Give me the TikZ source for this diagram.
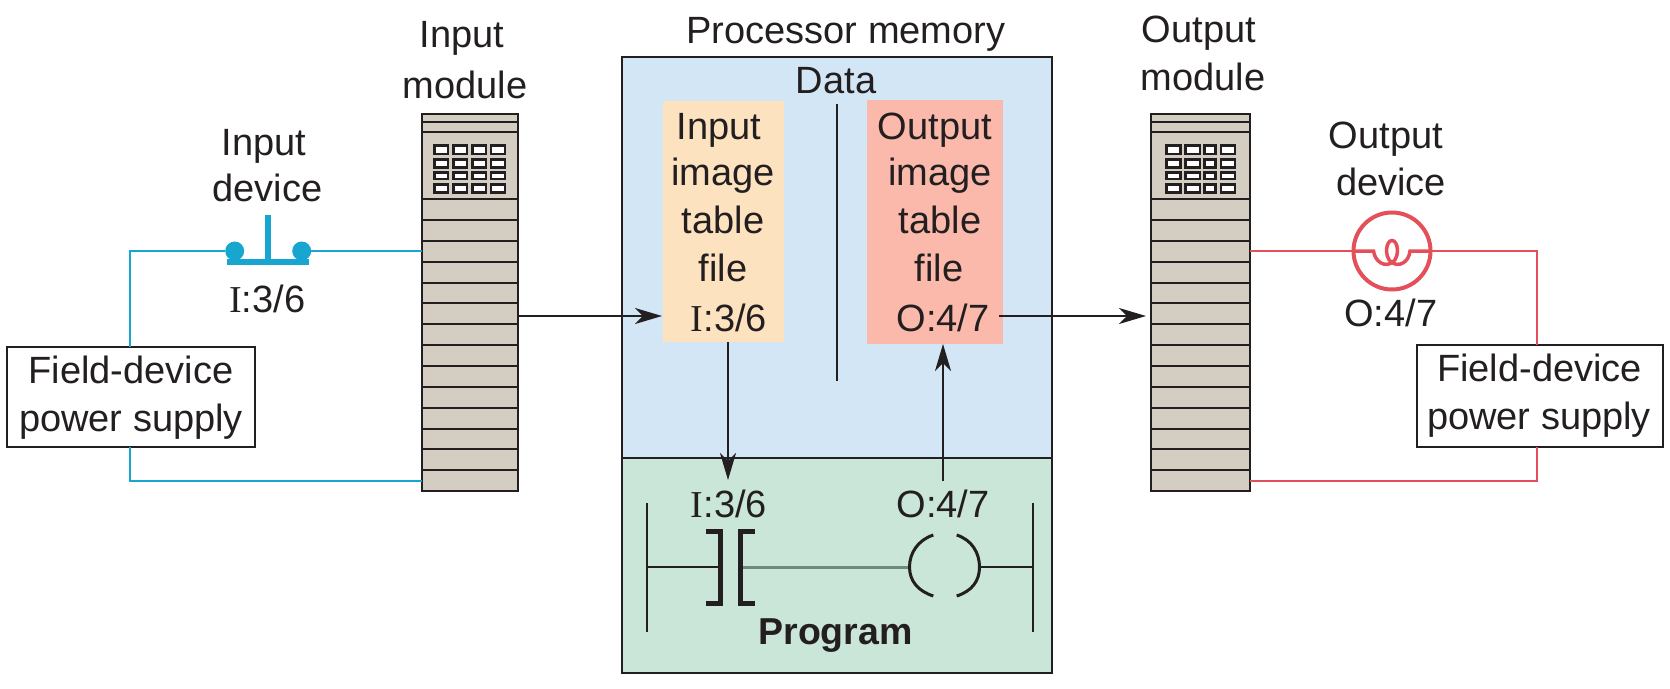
\documentclass[tikz,border=0pt]{standalone}
\usepackage{fontspec}
\setmainfont{Liberation Sans}
\newfontfamily\ifont{Liberation Serif}
\usetikzlibrary{arrows.meta}
\definecolor{ink}{HTML}{231F20}
\definecolor{cyanw}{HTML}{17A6CF}
\definecolor{redw}{HTML}{E4505A}
\definecolor{modfill}{HTML}{D3CEC1}
\definecolor{datafill}{HTML}{D3E6F5}
\definecolor{progfill}{HTML}{C9E6D9}
\definecolor{inimg}{HTML}{FDE2BF}
\definecolor{outimg}{HTML}{FBB9AB}
\definecolor{rungc}{HTML}{6F8A7C}
\newcommand{\Iad}{{\ifont I}:3/6}
\tikzset{
  x=1pt,y=-1pt,
  lbl/.style={anchor=base,inner sep=0pt,outer sep=0pt,text=ink,font=\fontsize{38}{38}\selectfont},
  boldlbl/.style={lbl,font=\fontsize{37.5}{38}\selectfont\bfseries},
  module/.style={draw=ink,line width=2.2pt,fill=modfill,inner sep=0pt,outer sep=0pt,minimum height=377pt},
  psbox/.style={draw=ink,line width=2.2pt,fill=white,inner sep=0pt,outer sep=0pt},
  region/.style={draw=ink,line width=2pt,inner sep=0pt,outer sep=0pt,minimum width=430pt},
  imgbox/.style={inner sep=0pt,outer sep=0pt},
  thinline/.style={draw=ink,line width=2pt},
  flow/.style={draw=ink,line width=2pt,-{Stealth[length=27pt,width=16pt,inset=8pt]}},
  wirec/.style={draw=cyanw,line width=2.2pt},
  wirer/.style={draw=redw,line width=2.2pt},
  bracket/.style={draw=ink,line width=4.5pt,line cap=butt,line join=miter},
  paren/.style={draw=ink,line width=3pt},
  dot/.style={circle,fill=cyanw,inner sep=0pt,outer sep=0pt,minimum size=19pt},
  lamp/.style={circle,draw=redw,line width=4pt,inner sep=0pt,outer sep=0pt,minimum size=77pt},
  modline/.style={draw=ink,line width=1.9pt},
  gridcell/.style={draw=ink,line width=2.4pt,fill=white},
}
% #1 left edge, #2 right edge of a module: its horizontal divisions
\newcommand{\modlines}[2]{%
  \foreach \yy in {122,131.7,198.7,219.7,241,261.7,282.7,302.7,324,345,366,386.7,407.7,429,449.3,470}
    \draw[modline] (#1,\yy) -- (#2,\yy);
}
% #1 = list of left/right x pairs of the four columns
\newcommand{\modgrid}[1]{%
  \foreach \xa/\xb in {#1}
    \foreach \ya/\yb in {145.4/154.2,159.4/167.3,172.4/179,184.4/192.6}
      \draw[gridcell] (\xa,\ya) rectangle (\xb,\yb);
}
\begin{document}
\begin{tikzpicture}
\useasboundingbox (0,0) rectangle (1670,688);
% memory regions
\node[region,fill=datafill,minimum height=401pt] (data) at (837,257.2) {};
\node[region,fill=progfill,minimum height=215pt] (prog) at (837,565.2) {};
\node[imgbox,fill=inimg,minimum width=120.7pt,minimum height=241.3pt] (inTable) at (723.6,221.4) {};
\node[imgbox,fill=outimg,minimum width=135.7pt,minimum height=243.7pt] (outTable) at (934.8,221.9) {};
% modules
\node[module,minimum width=96.3pt] (inMod) at (470.2,302.5) {};
\modlines{422}{518.3}
\modgrid{434.4/448.2,453.4/467.2,472.4/486.2,491/505}
\node[module,minimum width=99pt] (outMod) at (1200.8,302.5) {};
\modlines{1151.3}{1250.3}
\modgrid{1166.4/1180.6,1185.4/1200,1204.4/1215.6,1221/1235}
% anchors for connectors
\coordinate (inWireTop) at (422,251);
\coordinate (inWireBot) at (422,481);
\coordinate (outWireTop) at (1250.3,251);
\coordinate (outWireBot) at (1250.3,481);
\coordinate (inFlowS) at (518.3,316);
\coordinate (inFlowE) at (662,316);
\coordinate (outFlowS) at (999,316);
\coordinate (outFlowE) at (1146,316);
\coordinate (downS) at (728,342);
\coordinate (downE) at (728,480);
\coordinate (upS) at (943,481);
\coordinate (upE) at (943,344);
\coordinate (dataLineTop) at (837,104);
\coordinate (dataLineBot) at (837,381);
% input device
\node[dot] (swL) at (234.7,251) {};
\node[dot] (swR) at (301.7,251) {};
\node[psbox,minimum width=248.6pt,minimum height=100pt] (psL) at (131,396.7) {};
\draw[wirec] ([xshift=-1pt]psL.north) |- (swL.west);
\draw[wirec] (swR.east) -- (inWireTop);
\draw[wirec] ([xshift=-1pt]psL.south) |- (inWireBot);
\coordinate (barL) at (227.3,262);
\coordinate (barR) at (309.3,262);
\coordinate (stemTop) at (268,215);
\coordinate (stemBot) at (268,262);
\draw[cyanw,line width=5.5pt] (barL) -- (barR);
\draw[cyanw,line width=5.5pt] (stemTop) -- (stemBot);
% output device
\node[lamp] (lampN) at (1392,251) {};
\node[psbox,minimum width=246.6pt,minimum height=102pt] (psR) at (1540,395.7) {};
\draw[wirer] (outWireTop) -- (lampN.west);
\draw[wirer] (lampN.east) -| ([xshift=-2.7pt]psR.north);
\draw[wirer] ([xshift=-2.7pt]psR.south) |- (outWireBot);
\coordinate (filL) at (1373.5,251);
\coordinate (filR) at (1410,251);
\draw[redw,line width=3.5pt] (lampN.west) -- (filL)
  .. controls (1375,262) and (1385,268) .. (1393,262)
  .. controls (1400,256) and (1398,240.5) .. (1392,240.5)
  .. controls (1386,240.5) and (1384,256) .. (1391,262)
  .. controls (1399,268) and (1409,262) .. (filR) -- (lampN.east);
% data flows
\draw[thinline] (dataLineTop) -- (dataLineBot);
\draw[flow] (inFlowS) -- (inFlowE);
\draw[flow] (outFlowS) -- (outFlowE);
\draw[flow] (downS) -- (downE);
\draw[flow] (upS) -- (upE);
% ladder
\coordinate (railLT) at (646.7,503);
\coordinate (railLB) at (646.7,631.7);
\coordinate (railRT) at (1033,503);
\coordinate (railRB) at (1033,631.7);
\coordinate (railLM) at (646.7,567.3);
\coordinate (railRM) at (1033,567.3);
\coordinate (contactL) at (720,567.3);
\coordinate (contactR) at (740.5,567);
\coordinate (coilL) at (909,567);
\coordinate (coilR) at (979.5,567.3);
\draw[thinline] (railLT) -- (railLB);
\draw[thinline] (railRT) -- (railRB);
\draw[thinline] (railLM) -- (contactL);
\draw[thinline] (coilR) -- (railRM);
\draw[rungc,line width=3pt] (contactR) -- (coilL);
\draw[bracket] (706,531.5) -- (720.5,531.5) -- (720.5,603.7) -- (706,603.7);
\draw[bracket] (755,531.5) -- (740.5,531.5) -- (740.5,603.7) -- (755,603.7);
\draw[paren] (933.3,535) .. controls (918,540) and (909.5,553) .. (909.5,567) .. controls (909.5,581) and (918,591) .. (933.3,596);
\draw[paren] (956.7,535) .. controls (972,540) and (979.5,553) .. (979.5,567) .. controls (979.5,581) and (972,591) .. (956.7,596);
% labels
\node[lbl] (tInput) at (462,47) {Input};
\node[lbl] (tModule) at (465,98) {module};
\node[lbl] (tProc) at (846,43) {Processor memory};
\node[lbl] (tOutput) at (1199,42) {Output};
\node[lbl] (tOModule) at (1203,90) {module};
\node[lbl] (tDevI) at (263.8,155.7) {Input};
\node[lbl] (tDevI2) at (267.4,201) {device};
\node[lbl] (tAddrI) at (267.2,312.7) {\Iad};
\node[lbl] (tFieldL) at (130.8,383.3) {Field-device};
\node[lbl] (tPowerL) at (131,431.5) {power supply};
\node[lbl] (tDevO) at (1386,148) {Output};
\node[lbl] (tDevO2) at (1391,195) {device};
\node[lbl] (tAddrO) at (1390.8,326.7) {O:4/7};
\node[lbl] (tFieldR) at (1539.5,381.7) {Field-device};
\node[lbl] (tPowerR) at (1539,429.3) {power supply};
\node[lbl] (tData) at (836,93.3) {Data};
\node[lbl] (i1) at (719,139.3) {Input};
\node[lbl] (i2) at (723,185) {image};
\node[lbl] (i3) at (723,233) {table};
\node[lbl] (i4) at (723,281.7) {file};
\node[lbl] (i5) at (729,331.7) {\Iad};
\node[lbl] (o1) at (935,139.3) {Output};
\node[lbl] (o2) at (940,185) {image};
\node[lbl] (o3) at (940,233) {table};
\node[lbl] (o4) at (939,281.7) {file};
\node[lbl] (o5) at (943,331.7) {O:4/7};
\node[lbl] (lI) at (729,517.3) {\Iad};
\node[lbl] (lO) at (943,517.3) {O:4/7};
\node[boldlbl] (tProg) at (835.5,644) {Program};
\end{tikzpicture}
\end{document}
